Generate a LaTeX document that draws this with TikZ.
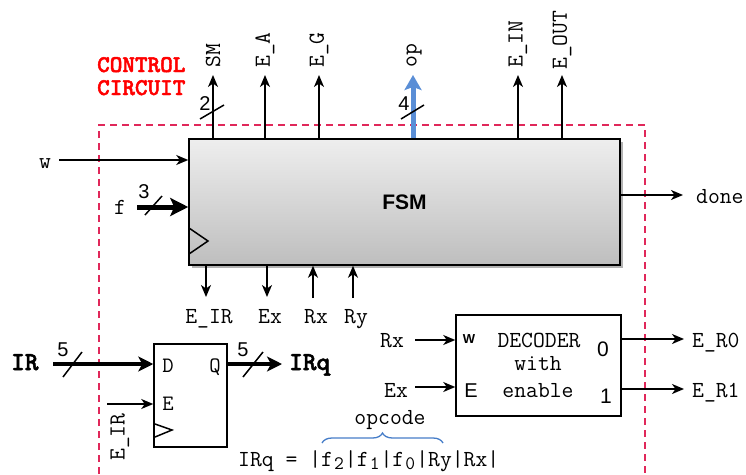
\documentclass[tikz,border=0pt]{standalone}
\usepackage{fontspec}
\newfontfamily\sansf{Liberation Sans}
\newfontfamily\monobold{lmmonolt10-bold.otf}[FakeBold=2]
\usetikzlibrary{arrows.meta,shadows,decorations.pathreplacing}
\definecolor{dashred}{RGB}{224,40,90}
\definecolor{opblue}{RGB}{90,142,214}
\definecolor{braceblue}{RGB}{70,125,200}
\definecolor{fsmtop}{RGB}{238,238,238}
\definecolor{fsmbot}{RGB}{190,190,190}
\newcommand\subd[1]{\raisebox{-3.5pt}{\makebox[12pt]{\fontsize{19}{19}\selectfont #1}}}
\begin{document}
\begin{tikzpicture}[x=1pt,y=-1pt,
  lbl/.style={font=\ttfamily\fontsize{23}{23}\selectfont, inner sep=0pt},
  blbl/.style={font=\monobold\fontsize{26}{26}\selectfont, inner sep=0pt},
  num/.style={font=\sansf\fontsize{20}{20}\selectfont, inner sep=0pt},
  vlbl/.style={lbl, rotate=90, anchor=west},
  arr/.style={line width=1.5pt, -{Stealth[length=12pt,width=10pt,inset=3.5pt]}},
  thickarr/.style={line width=4pt, -{Stealth[length=15pt,width=15pt,inset=4pt]}},
  slash/.style={line width=1.5pt},
  box/.style={draw=black, line width=1.5pt, inner sep=0pt}
]
\useasboundingbox (0,0) rectangle (746,474);

% control circuit boundary
\draw[dashred, line width=1.8pt, dash pattern=on 7pt off 5pt] (99,474) -- (99,125) -- (645,125) -- (645,474);
\node[anchor=base west, inner sep=0pt, text=red, font=\monobold\fontsize{24}{23}\selectfont, align=left] (cc) at (97,95) {CONTROL\\CIRCUIT};

% FSM
\node[box, minimum width=431pt, minimum height=126pt, top color=fsmtop, bottom color=fsmbot,
  drop shadow={shadow xshift=3pt, shadow yshift=-3pt, opacity=0.3, fill=black},
  font=\sansf\bfseries\fontsize{21}{21}\selectfont] (fsm) at (404.5,202) {FSM};
\draw[line width=1.5pt] (189,228) -- (208,241) -- (189,254);

% top outputs
\coordinate (smT) at (213,75);
\coordinate (eaT) at (265,75);
\coordinate (egT) at (319,75);
\coordinate (opT) at (413,75);
\coordinate (einT) at (518,75);
\coordinate (eoutT) at (562,75);
\draw[arr] (fsm.north -| smT) -- (smT);
\draw[arr] (fsm.north -| eaT) -- (eaT);
\draw[arr] (fsm.north -| egT) -- (egT);
\draw[opblue, line width=5pt, -{Stealth[length=15pt,width=17pt,inset=3pt]}] (fsm.north -| opT) -- (opT);
\draw[arr] (fsm.north -| einT) -- (einT);
\draw[arr] (fsm.north -| eoutT) -- (eoutT);
\node[vlbl] (sm) at (213,68) {SM};
\node[vlbl] (ea) at (265,68) {E\_A};
\node[vlbl] (eg) at (319,68) {E\_G};
\node[vlbl] (op) at (414,68) {op};
\node[vlbl] (ein) at (518,68) {E\_IN};
\node[vlbl] (eout) at (562,70) {E\_OUT};
\draw[slash] (200,119) -- (224,105);
\node[num] (n2) at (205,104) {2};
\draw[slash] (401,119) -- (424,105);
\node[num] (n4) at (404,104) {4};

% left inputs
\node[lbl, anchor=base] (w) at (45,168) {w};
\coordinate (wS) at (59,160);
\draw[arr] (wS) -- (fsm.west |- wS);
\node[lbl, anchor=base] (f) at (120,214) {f};
\coordinate (fS) at (137,207);
\draw[line width=5pt, -{Stealth[length=18pt,width=18pt,inset=4pt]}] (fS) -- (fsm.west |- fS);
\draw[slash] (145,215) -- (162,196);
\node[num] (n3) at (144,192) {3};

% done
\coordinate (doneT) at (683,195);
\draw[arr] (fsm.east |- doneT) -- (doneT);
\node[lbl, anchor=base west] (done) at (696,203) {done};

% bottom signals
\coordinate (eirB) at (206,297);
\coordinate (exB) at (267,297);
\coordinate (rxB) at (313,298);
\coordinate (ryB) at (353,298);
\draw[arr] (fsm.south -| eirB) -- (eirB);
\draw[arr] (fsm.south -| exB) -- (exB);
\draw[arr] (rxB) -- (fsm.south -| rxB);
\draw[arr] (ryB) -- (fsm.south -| ryB);
\node[lbl, anchor=base] (eir) at (209,323) {E\_IR};
\node[lbl, anchor=base] (ex) at (270,323) {Ex};
\node[lbl, anchor=base] (rx) at (316,323) {Rx};
\node[lbl, anchor=base] (ry) at (356,323) {Ry};

% flip-flop
\node[box, minimum width=73pt, minimum height=103pt] (ff) at (190.5,395.5) {};
\node[lbl, anchor=base, font=\ttfamily\fontsize{22}{22}\selectfont] (ffd) at (168,372) {D};
\node[lbl, anchor=base, font=\ttfamily\fontsize{22}{22}\selectfont] (ffq) at (215,372) {Q};
\node[lbl, anchor=base, font=\ttfamily\fontsize{22}{22}\selectfont] (ffe) at (168,410) {E};
\draw[line width=1.5pt] (155,424) -- (172,430) -- (155,437);

\node[blbl, anchor=base west] (ir) at (11,370) {IR};
\coordinate (irS) at (53,364);
\draw[thickarr] (irS) -- (ff.west |- irS);
\draw[slash] (63,377) -- (82,352);
\node[num] (n5a) at (63,350) {5};
\coordinate (irqT) at (282,364);
\draw[thickarr] (ff.east |- irqT) -- (irqT);
\draw[slash] (243,377) -- (263,352);
\node[num] (n5b) at (243,350) {5};
\node[blbl, anchor=base west] (irq) at (289,370) {IRq};

\coordinate (eS) at (107,404);
\draw[arr] (eS) -- (ff.west |- eS);
\node[lbl, rotate=90, anchor=center] (eir2) at (120,437) {E\_IR};

% decoder
\node[box, minimum width=165pt, minimum height=101pt] (dec) at (538.5,365.5) {};
\node[inner sep=0pt, anchor=base, font=\sansf\bfseries\fontsize{13}{13}\selectfont] (dw) at (469,343) {W};
\node[inner sep=0pt, anchor=base, font=\sansf\fontsize{20}{20}\selectfont] (de) at (471,397) {E};
\node[inner sep=0pt, anchor=base, font=\sansf\fontsize{21}{21}\selectfont] (d0) at (603,356) {0};
\node[inner sep=0pt, anchor=base, font=\sansf\fontsize{21}{21}\selectfont] (d1) at (606,403) {1};
\node[lbl, anchor=base] (dt1) at (539,347) {DECODER};
\node[lbl, anchor=base] (dt2) at (538,370) {with};
\node[lbl, anchor=base] (dt3) at (538,397) {enable};

\node[lbl, anchor=base west] (rx2) at (380,347) {Rx};
\node[lbl, anchor=base west] (ex2) at (384,397) {Ex};
\coordinate (rxS) at (415,340);
\coordinate (exS) at (415,387);
\draw[arr] (rxS) -- (dec.west |- rxS);
\draw[arr] (exS) -- (dec.west |- exS);

\coordinate (r0T) at (684,339);
\coordinate (r1T) at (684,389);
\draw[arr] (dec.east |- r0T) -- (r0T);
\draw[arr] (dec.east |- r1T) -- (r1T);
\node[lbl, anchor=base west] (er0) at (692,347) {E\_R0};
\node[lbl, anchor=base west] (er1) at (692,397) {E\_R1};

% opcode equation
\draw[braceblue, line width=1.3pt, decorate, decoration={brace, amplitude=10pt}] (322,443) -- (443,443);
\node[lbl, anchor=base] (opc) at (390,424) {opcode};
\node[lbl, anchor=base west] (eq) at (238,466) {IRq = |f\subd{2}|f\subd{1}|f\subd{0}|Ry|Rx|};
\end{tikzpicture}
\end{document}
